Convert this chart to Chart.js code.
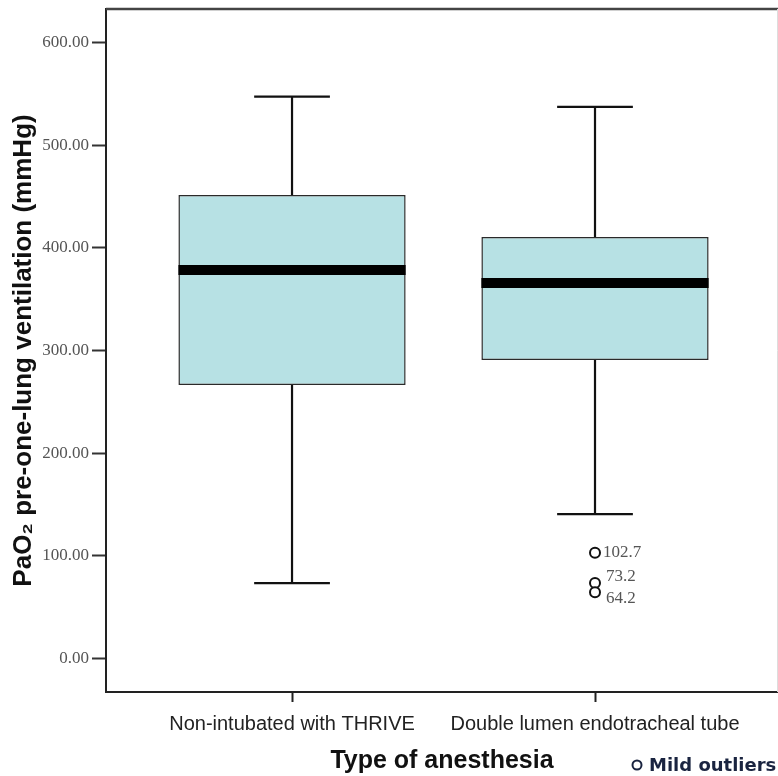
<!DOCTYPE html>
<html><head><meta charset="utf-8">
<script src="https://cdn.jsdelivr.net/npm/chart.js@4/dist/chart.umd.min.js"></script>
<style>html,body{margin:0;padding:0;background:#fff;overflow:hidden}#wrap{width:778px;height:776px;position:relative}</style>
</head><body><div id="wrap"><canvas id="c" width="778" height="776"></canvas></div>
<script>
const categories = ['Non-intubated with THRIVE', 'Double lumen endotracheal tube'];
const groupPositions = [1, 2];
const whiskerLow = [73.2, 140.5];
const q1 = [266.3, 290.7];
const median = [378.5, 365.9];
const q3 = [451.7, 410.7];
const whiskerHigh = [547.5, 537.5];
const outlierValues = [102.7, 73.2, 64.2];
const outlierGroup = [1, 1, 1];
const outlierLabels = ['102.7', '73.2', '64.2'];
const yTicks = [0, 100, 200, 300, 400, 500, 600];

const boxWidth = 0.75;   // in x units
const capWidth = 0.25;

const boxData = categories.map((c, i) => ({x: groupPositions[i], y: [q1[i], q3[i]]}));
const outlierData = outlierValues.map((v, i) => ({x: groupPositions[outlierGroup[i]], y: v}));

const boxPlugin = {
  id: 'boxplot',
  afterDatasetsDraw(chart) {
    const {ctx, scales: {x, y}, chartArea: a} = chart;
    ctx.save();
    // frame top & right
    ctx.strokeStyle = '#444'; ctx.lineWidth = 2.5;
    ctx.beginPath(); ctx.moveTo(a.left, a.top); ctx.lineTo(a.right, a.top); ctx.stroke();
    ctx.strokeStyle = '#ddd'; ctx.lineWidth = 1;
    ctx.beginPath(); ctx.moveTo(a.right - 0.5, a.top); ctx.lineTo(a.right - 0.5, a.bottom); ctx.stroke();
    categories.forEach((c, i) => {
      const gx = groupPositions[i];
      const cx = x.getPixelForValue(gx);
      const cl = x.getPixelForValue(gx - capWidth / 2), cr = x.getPixelForValue(gx + capWidth / 2);
      const bl = x.getPixelForValue(gx - boxWidth / 2), br = x.getPixelForValue(gx + boxWidth / 2);
      ctx.strokeStyle = '#111'; ctx.lineWidth = 2.2; ctx.lineCap = 'butt';
      ctx.beginPath();
      ctx.moveTo(cx, y.getPixelForValue(q3[i])); ctx.lineTo(cx, y.getPixelForValue(whiskerHigh[i]));
      ctx.moveTo(cx, y.getPixelForValue(q1[i])); ctx.lineTo(cx, y.getPixelForValue(whiskerLow[i]));
      ctx.moveTo(cl, y.getPixelForValue(whiskerHigh[i])); ctx.lineTo(cr, y.getPixelForValue(whiskerHigh[i]));
      ctx.moveTo(cl, y.getPixelForValue(whiskerLow[i])); ctx.lineTo(cr, y.getPixelForValue(whiskerLow[i]));
      ctx.stroke();
      ctx.strokeStyle = '#000'; ctx.lineWidth = 10;
      ctx.beginPath();
      ctx.moveTo(bl, y.getPixelForValue(median[i])); ctx.lineTo(br, y.getPixelForValue(median[i]));
      ctx.stroke();
    });
    // outlier labels, spread apart when close
    const items = outlierValues.map((v, i) => ({
      px: x.getPixelForValue(groupPositions[outlierGroup[i]]),
      py: y.getPixelForValue(v), label: outlierLabels[i]
    })).sort((p, q) => p.py - q.py);
    const minGap = 22;
    for (let k = 0; k < items.length; k++) items[k].ly = items[k].py;
    for (let k = 1; k < items.length; k++) {
      if (items[k].py - items[k - 1].py < minGap) {
        const mid = (items[k].py + items[k - 1].py) / 2;
        items[k - 1].ly = mid - minGap / 2; items[k].ly = mid + minGap / 2;
      }
    }
    ctx.fillStyle = '#555';
    ctx.font = '17px "Liberation Serif"';
    ctx.textAlign = 'left'; ctx.textBaseline = 'middle';
    items.forEach(it => ctx.fillText(it.label, it.px + (it.ly === it.py ? 8 : 11), it.ly));
    // legend
    ctx.strokeStyle = '#1a2440'; ctx.lineWidth = 2;
    ctx.beginPath(); ctx.arc(637, 765, 4.5, 0, Math.PI * 2); ctx.stroke();
    ctx.fillStyle = '#1a2440';
    ctx.font = 'bold 18px "DejaVu Sans"';
    ctx.fillText('Mild outliers', 649, 766);
    ctx.restore();
  }
};

new Chart(document.getElementById('c'), {
  type: 'bar',
  data: {datasets: [
    {type: 'bar', data: boxData, backgroundColor: '#b7e1e4', borderColor: '#2a2a2a', borderWidth: 1.5,
     borderSkipped: false, barPercentage: boxWidth, categoryPercentage: 1, order: 2},
    {type: 'scatter', data: outlierData, pointStyle: 'circle', pointRadius: 5, pointBorderWidth: 2,
     pointBackgroundColor: '#fff', pointBorderColor: '#111', order: 1}
  ]},
  options: {
    responsive: false, animation: false,
    layout: {autoPadding: false, padding: {top: 9, left: 0, right: 0, bottom: 0}},
    plugins: {legend: {display: false}, tooltip: {enabled: false}},
    scales: {
      x: {
        type: 'linear', min: 0.386, max: 2.604, offset: false,
        afterBuildTicks: s => { s.ticks = groupPositions.map(v => ({value: v})); },
        ticks: {callback: v => categories[groupPositions.indexOf(v)], font: {family: 'Liberation Sans', size: 20},
                color: '#222', padding: 10, maxRotation: 0, autoSkip: false},
        grid: {display: true, offset: false, drawOnChartArea: false, tickLength: 10, tickWidth: 2, tickColor: '#222'},
        border: {display: true, color: '#222', width: 2},
        title: {display: true, text: 'Type of anesthesia', font: {family: 'Liberation Sans', size: 25, weight: 'bold'},
                color: '#111', padding: {top: 0, bottom: 0}},
        afterFit: s => { s.height = 84; s.paddingLeft = 0; s.paddingRight = 0; }
      },
      y: {
        type: 'linear', min: -33, max: 633,
        afterBuildTicks: s => { s.ticks = yTicks.map(v => ({value: v})); },
        ticks: {callback: v => Number(v).toFixed(2), font: {family: 'Liberation Serif', size: 17}, color: '#555', padding: 3},
        grid: {drawOnChartArea: false, tickLength: 14, tickWidth: 2, tickColor: '#333'},
        border: {color: '#222', width: 2},
        title: {display: true, text: 'PaO\u2082 pre-one-lung ventilation (mmHg)', font: {family: 'Liberation Sans', size: 26, weight: 'bold'},
                color: '#111', padding: {top: 8, bottom: 0}},
        afterFit: s => { s.width = 106; s.paddingTop = 0; s.paddingBottom = 0; }
      }
    }
  },
  plugins: [boxPlugin]
});
</script>
</body></html>
